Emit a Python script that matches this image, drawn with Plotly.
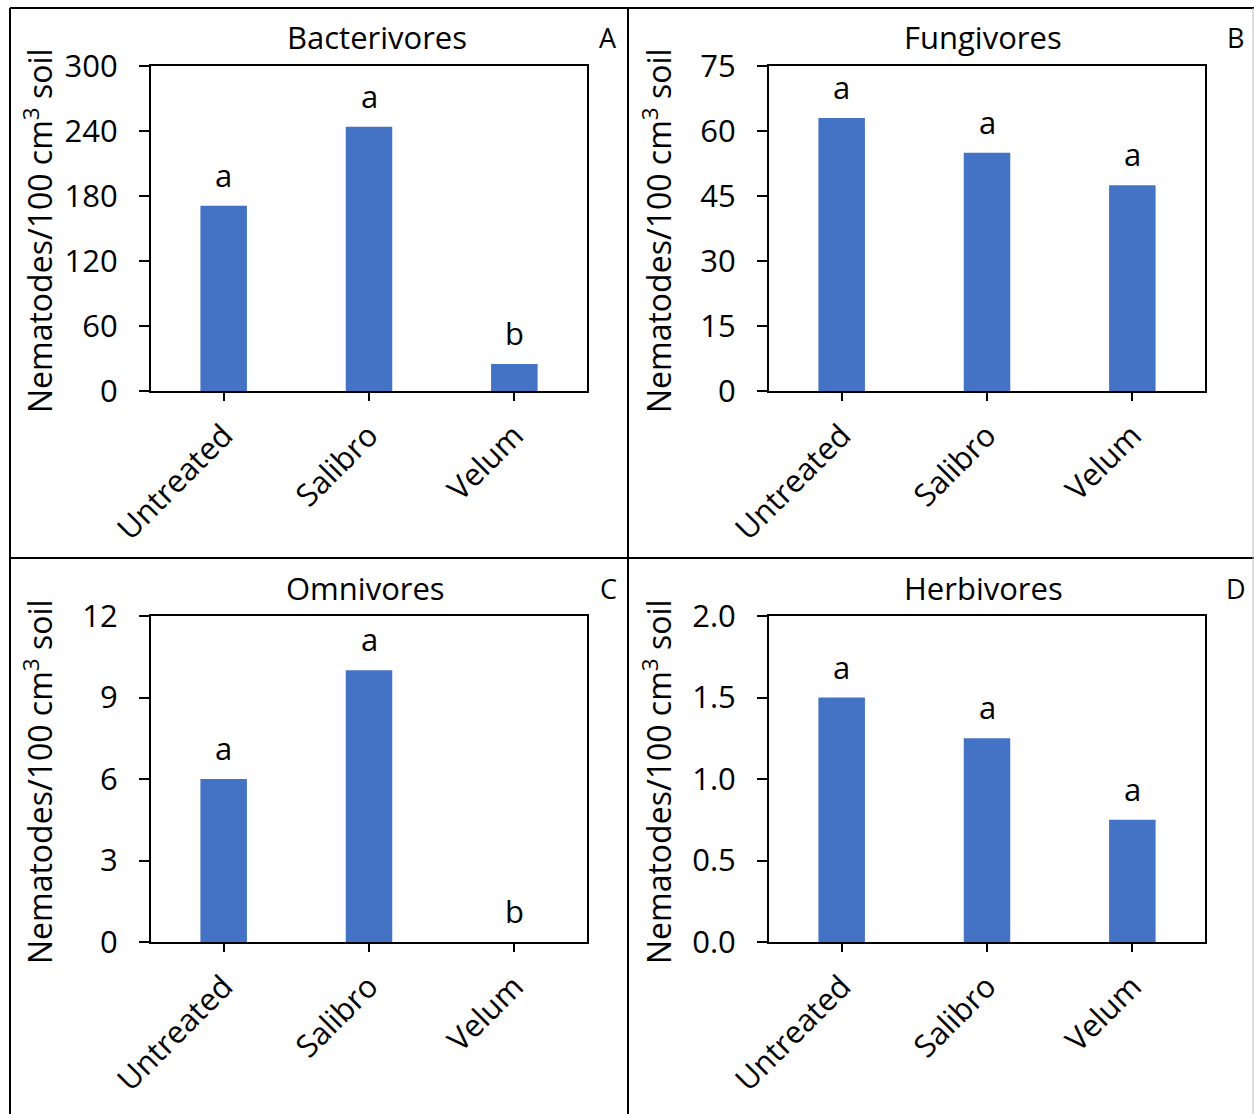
import plotly.graph_objects as go

categories = ["Untreated", "Salibro", "Velum"]

panel_titles = ["Bacterivores", "Fungivores", "Omnivores", "Herbivores"]
panel_tags = ["A", "B", "C", "D"]

bacterivores = [171, 244, 25]
fungivores = [63, 55, 47.5]
omnivores = [6, 10, 0]
herbivores = [1.5, 1.25, 0.75]

bacterivores_sig = ["a", "a", "b"]
fungivores_sig = ["a", "a", "a"]
omnivores_sig = ["a", "a", "b"]
herbivores_sig = ["a", "a", "a"]

y_max = [300, 75, 12, 2.0]
y_step = [60, 15, 3, 0.5]
y_format = ["d", "d", "d", ".1f"]

y_title = "Nematodes/100 cm<sup>3</sup> soil"

W, H = 1254, 1114
FONT = "Open Sans"
FS = 31
BAR = "#4472C4"

def px(x):
    return x / W

def py(y):
    return 1 - y / H

values = [bacterivores, fungivores, omnivores, herbivores]
sigs = [bacterivores_sig, fungivores_sig, omnivores_sig, herbivores_sig]

# plot area pixel boxes (x0, x1, ytop, ybottom)
boxes = [
    (151, 587, 66, 391),
    (769, 1205, 66, 391),
    (151, 587, 616, 942),
    (769, 1205, 616, 942),
]
title_pos = [(377, 37), (983, 37), (365, 588), (983, 588)]
tag_pos = [(608, 37), (1235, 37), (608, 588), (1236, 588)]
ytitle_pos = [(38, 231), (657, 231), (38, 782), (657, 782)]

fig = go.Figure()
annotations = []
for i in range(4):
    ax = "" if i == 0 else str(i + 1)
    xa, ya = "x" + ax, "y" + ax
    fig.add_trace(go.Bar(
        x=categories, y=values[i], xaxis=xa, yaxis=ya,
        marker=dict(color=BAR, line=dict(width=0)),
        width=0.32, showlegend=False,
    ))
    x0, x1, yt, yb = boxes[i]
    common = dict(showline=True, linecolor="black", linewidth=2, mirror=True,
                  ticks="outside", tickcolor="black", tickwidth=2,
                  showgrid=False, zeroline=False, automargin=False,
                  tickfont=dict(family=FONT, size=FS, color="black"))
    fig.update_layout(**{
        "xaxis" + ax: dict(domain=[px(x0), px(x1)], range=[-0.5, 2.5],
                           anchor=ya, tickangle=-45, ticklen=8,
                           ticklabelstandoff=4, **common),
        "yaxis" + ax: dict(domain=[py(yb), py(yt)], range=[0, y_max[i]],
                           anchor=xa, dtick=y_step[i], tick0=0, ticklen=10,
                           tickformat=y_format[i], ticklabelstandoff=15,
                           **common),
    })
    for c, v, s in zip(categories, values[i], sigs[i]):
        annotations.append(dict(x=c, y=v, xref=xa, yref=ya, text=s,
                                showarrow=False, yanchor="middle", yshift=31,
                                font=dict(family=FONT, size=FS, color="black")))
    tx, ty = title_pos[i]
    annotations.append(dict(x=px(tx), y=py(ty), xref="paper", yref="paper",
                            text=panel_titles[i], showarrow=False,
                            xanchor="center", yanchor="middle",
                            font=dict(family=FONT, size=31, color="black")))
    gx, gy = tag_pos[i]
    annotations.append(dict(x=px(gx), y=py(gy), xref="paper", yref="paper",
                            text=panel_tags[i], showarrow=False,
                            xanchor="center", yanchor="middle",
                            font=dict(family=FONT, size=27, color="black")))
    ux, uy = ytitle_pos[i]
    annotations.append(dict(x=px(ux), y=py(uy), xref="paper", yref="paper",
                            text=y_title, showarrow=False, textangle=-90,
                            xanchor="center", yanchor="middle",
                            font=dict(family=FONT, size=32, color="black")))

shapes = []
def line(x0, y0, x1, y1, color="black", w=2):
    shapes.append(dict(type="line", xref="paper", yref="paper",
                       x0=px(x0), y0=py(y0), x1=px(x1), y1=py(y1),
                       line=dict(color=color, width=w)))

line(10, 8, 10, H)
line(10, 8, W, 8)
line(628, 8, 628, H)
line(10, 558, W, 558)
line(1253, 8, 1253, H, color="#bbbbbb", w=1)

fig.update_layout(
    width=W, height=H, margin=dict(l=0, r=0, t=0, b=0, autoexpand=False),
    paper_bgcolor="white", plot_bgcolor="white",
    annotations=annotations, shapes=shapes,
    bargap=0.5,
)

fig.write_html(
    "out.html",
    config={"displayModeBar": False},
    post_script="document.body.style.margin='0px';document.body.style.overflow='hidden';",
)
